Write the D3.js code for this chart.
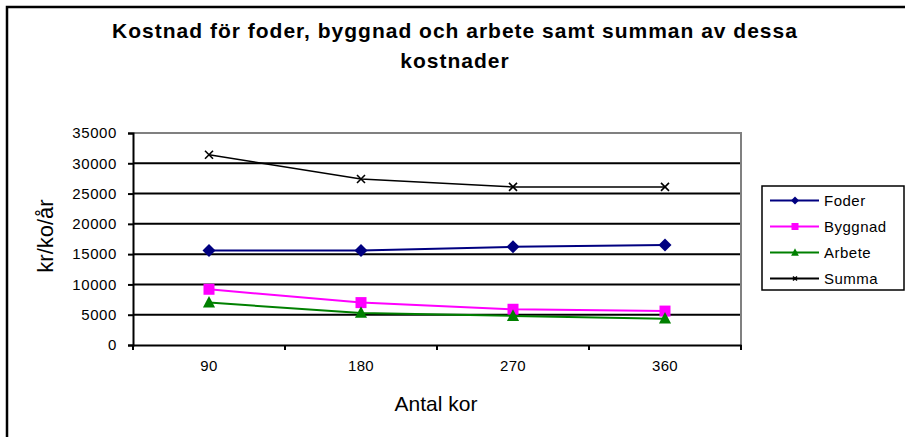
<!DOCTYPE html>
<html><head><meta charset="utf-8">
<script src="https://cdn.jsdelivr.net/npm/d3@7"></script>
<style>body{margin:0;background:#fff}svg{display:block;font-family:"Liberation Sans",Arial,sans-serif}</style>
</head><body><svg id="c" width="911" height="437"></svg>
<script>
const categories = ["90","180","270","360"];
const foder   = [15600, 15600, 16200, 16500];
const byggnad = [9200, 7000, 5900, 5600];
const arbete  = [7000, 5300, 4800, 4350];
const summa   = [31400, 27400, 26100, 26100];
const yTicks  = [0,5000,10000,15000,20000,25000,30000,35000];
const seriesNames = ["Foder","Byggnad","Arbete","Summa"];
const titleLines = ["Kostnad för foder, byggnad och arbete samt summan av dessa","kostnader"];

const series = [
  {name:seriesNames[0], values:foder,   color:"#000080", sym:"diamond"},
  {name:seriesNames[1], values:byggnad, color:"#FF00FF", sym:"square"},
  {name:seriesNames[2], values:arbete,  color:"#008000", sym:"triangle"},
  {name:seriesNames[3], values:summa,   color:"#000000", sym:"x"}
];

const svg = d3.select("#c");
const L=133, R=741, T=133, B=345;
const x = d3.scaleBand().domain(categories).range([L,R]);
const y = d3.scaleLinear().domain([0,35000]).range([B,T]);

// outer frame (top & left visible)
svg.append("path").attr("d","M7,437 V7 H905").attr("fill","none").attr("stroke","#000").attr("stroke-width",2.5);

// title
const t = svg.append("text").attr("text-anchor","middle").attr("font-weight","bold").attr("font-size",21).attr("letter-spacing",1).attr("fill","#000");
titleLines.forEach((s,i)=>t.append("tspan").attr("x",455).attr("y",38+i*30).text(s));

// gridlines
svg.append("g").selectAll("line").data(yTicks.filter(d=>d>0 && d<35000)).join("line")
  .attr("x1",L).attr("x2",R).attr("y1",d=>y(d)).attr("y2",d=>y(d)).attr("stroke","#000").attr("stroke-width",2);
// plot border top/right gray
svg.append("path").attr("d",`M${L},${T} H${R} V${B}`).attr("fill","none").attr("stroke","#808080").attr("stroke-width",2);

// y axis
const ya = svg.append("g").attr("transform",`translate(${L},0)`).call(d3.axisLeft(y).tickValues(yTicks).tickSize(5).tickPadding(11).tickFormat(d3.format("d")));
ya.select(".domain").attr("stroke","#000").attr("stroke-width",2);
ya.selectAll(".tick line").attr("stroke","#000").attr("stroke-width",2);
ya.selectAll("text").attr("font-size",15).attr("letter-spacing",0.6).attr("fill","#000").attr("font-family","Liberation Sans, Arial");

// x axis
const xa = svg.append("g").attr("transform",`translate(0,${B})`).call(d3.axisBottom(x).tickSize(0).tickPadding(15));
xa.select(".domain").attr("stroke","#000").attr("stroke-width",2);
xa.selectAll("text").attr("font-size",15).attr("letter-spacing",0.3).attr("fill","#000").attr("font-family","Liberation Sans, Arial");
// band boundary ticks
const bounds = categories.map(c=>x(c)).concat([R]);
svg.append("g").selectAll("line").data(bounds).join("line")
  .attr("x1",d=>d).attr("x2",d=>d).attr("y1",B).attr("y2",B+5).attr("stroke","#000").attr("stroke-width",2);

// axis titles
svg.append("text").attr("x",436).attr("y",411).attr("text-anchor","middle").attr("font-size",21).text("Antal kor");
svg.append("text").attr("transform","translate(53,236) rotate(-90)").attr("text-anchor","middle").attr("font-size",22).text("kr/ko/år");

function drawMarker(g, sym, color, s){
  if(sym==="diamond") g.append("path").attr("d",`M0,${-s/2}L${s/2},0L0,${s/2}L${-s/2},0Z`).attr("fill",color);
  else if(sym==="square") g.append("rect").attr("x",-s/2).attr("y",-s/2).attr("width",s).attr("height",s).attr("fill",color);
  else if(sym==="triangle") g.append("path").attr("d",`M0,${-s*0.6}L${s*0.55},${s*0.45}L${-s*0.55},${s*0.45}Z`).attr("fill",color);
  else g.append("path").attr("d",`M${-s/2},${-s/2}L${s/2},${s/2}M${-s/2},${s/2}L${s/2},${-s/2}`).attr("stroke",color).attr("stroke-width",1.6);
}

const cx = c=>x(c)+x.bandwidth()/2;
const line = d3.line().x((d,i)=>cx(categories[i])).y(d=>y(d));
const msize = {diamond:13, square:11, triangle:11, x:8};
series.forEach(s=>{
  svg.append("path").attr("d",line(s.values)).attr("fill","none").attr("stroke",s.color).attr("stroke-width",s.sym==="x"?1.5:2);
  s.values.forEach((v,i)=>{
    const g = svg.append("g").attr("transform",`translate(${cx(categories[i])},${y(v)})`);
    drawMarker(g, s.sym, s.color, msize[s.sym]);
  });
});

// legend
const lg = svg.append("g");
lg.append("rect").attr("x",762).attr("y",186).attr("width",142).attr("height",104).attr("fill","#fff").attr("stroke","#000").attr("stroke-width",1.5);
series.forEach((s,i)=>{
  const yy = 200.5 + i*26;
  lg.append("line").attr("x1",770).attr("x2",819).attr("y1",yy).attr("y2",yy).attr("stroke",s.color).attr("stroke-width",2);
  const g = lg.append("g").attr("transform",`translate(795,${yy})`);
  drawMarker(g, s.sym, s.color, s.sym==="x"?4:(s.sym==="diamond"?8:7));
  lg.append("text").attr("x",824).attr("y",yy+5.5).attr("font-size",15).attr("letter-spacing",0.5).attr("fill","#000").text(s.name);
});
</script></body></html>
